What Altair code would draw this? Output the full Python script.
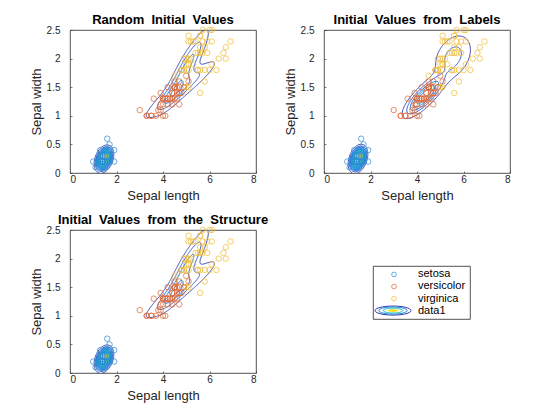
import numpy as np
import pandas as pd
import altair as alt
from collections import defaultdict

# ---------------- data: Fisher iris, petal measurements ----------------
species_names = ["setosa", "versicolor", "virginica"]

setosa_len = [1.4,1.4,1.3,1.5,1.4,1.7,1.4,1.5,1.4,1.5,1.5,1.6,1.4,1.1,1.2,1.5,1.3,1.4,1.7,1.5,
              1.7,1.5,1.0,1.7,1.9,1.6,1.6,1.5,1.4,1.6,1.6,1.5,1.5,1.4,1.5,1.2,1.3,1.4,1.3,1.5,
              1.3,1.3,1.3,1.6,1.9,1.4,1.6,1.4,1.5,1.4]
setosa_wid = [0.2,0.2,0.2,0.2,0.2,0.4,0.3,0.2,0.2,0.1,0.2,0.2,0.1,0.1,0.2,0.4,0.4,0.3,0.3,0.3,
              0.2,0.4,0.2,0.5,0.2,0.2,0.4,0.2,0.2,0.2,0.2,0.4,0.1,0.2,0.2,0.2,0.2,0.1,0.2,0.2,
              0.3,0.3,0.2,0.6,0.4,0.3,0.2,0.2,0.2,0.2]
versicolor_len = [4.7,4.5,4.9,4.0,4.6,4.5,4.7,3.3,4.6,3.9,3.5,4.2,4.0,4.7,3.6,4.4,4.5,4.1,4.5,3.9,
                  4.8,4.0,4.9,4.7,4.3,4.4,4.8,5.0,4.5,3.5,3.8,3.7,3.9,5.1,4.5,4.5,4.7,4.4,4.1,4.0,
                  4.4,4.6,4.0,3.3,4.2,4.2,4.2,4.3,3.0,4.1]
versicolor_wid = [1.4,1.5,1.5,1.3,1.5,1.3,1.6,1.0,1.3,1.4,1.0,1.5,1.0,1.4,1.3,1.4,1.5,1.0,1.5,1.1,
                  1.8,1.3,1.5,1.2,1.3,1.4,1.4,1.7,1.5,1.0,1.1,1.0,1.2,1.6,1.5,1.6,1.5,1.3,1.3,1.3,
                  1.2,1.4,1.2,1.0,1.3,1.2,1.3,1.3,1.1,1.3]
virginica_len = [6.0,5.1,5.9,5.6,5.8,6.6,4.5,6.3,5.8,6.1,5.1,5.3,5.5,5.0,5.1,5.3,5.5,6.7,6.9,5.0,
                 5.7,4.9,6.7,4.9,5.7,6.0,4.8,4.9,5.6,5.8,6.1,6.4,5.6,5.1,5.6,6.1,5.6,5.5,4.8,5.4,
                 5.6,5.1,5.1,5.9,5.7,5.2,5.0,5.2,5.4,5.1]
virginica_wid = [2.5,1.9,2.1,1.8,2.2,2.1,1.7,1.8,1.8,2.5,2.0,1.9,2.1,2.0,2.4,2.3,1.8,2.2,2.3,1.5,
                 2.3,2.0,2.0,1.8,2.1,1.8,1.8,1.8,2.1,1.6,1.9,2.0,2.2,1.5,1.4,2.3,2.4,1.8,1.8,2.1,
                 2.4,2.3,1.9,2.3,2.5,2.3,1.9,2.0,2.3,1.8]

panel_titles = ["Random\u00a0 Initial\u00a0 Values",
                "Initial\u00a0 Values\u00a0 from\u00a0 Labels",
                "Initial\u00a0 Values\u00a0 from\u00a0 the\u00a0 Structure"]

# Start values given explicitly in the structure (mu, Sigma, proportions)
start_mu = [[1, 1], [2, 2], [3, 3]]
start_sigma_base = [[1, 1], [1, 2]]
start_sigma_scale = [1, 2, 3]
start_prop = [1/2, 1/4, 1/4]

x_ticks = [0, 2, 4, 6, 8]
y_ticks = [0, 0.5, 1, 1.5, 2, 2.5]
x_dom = [0, 8]
y_dom = [0, 2.5]
n_levels = 20

species_colors = ["#2f8fd6", "#df6a3a", "#f0bd3a"]
parula = ["#352a87", "#0363e1", "#1485d4", "#06a7c6", "#38b99e",
          "#92bf73", "#d9ba56", "#fcce2e", "#f9fb0e"]

# ---------------- GMM fits ----------------
pl = np.array(setosa_len + versicolor_len + virginica_len, float)
pw = np.array(setosa_wid + versicolor_wid + virginica_wid, float)
sp = ["setosa"] * 50 + ["versicolor"] * 50 + ["virginica"] * 50
X = np.column_stack([pl, pw])


def gauss(P, mu, S):
    d = P - mu
    inv = np.linalg.inv(S)
    q = np.einsum("ni,ij,nj->n", d, inv, d)
    return np.exp(-0.5 * q) / (2 * np.pi * np.sqrt(np.linalg.det(S)))


def fit_gmm(X, mu, S, w, max_iter=100, tol=1e-6):
    mu = np.array(mu, float); S = np.array(S, float); w = np.array(w, float)
    prev = -np.inf
    for _ in range(max_iter):
        dens = np.column_stack([w[k] * gauss(X, mu[k], S[k]) for k in range(len(w))])
        tot = dens.sum(1)
        ll = np.log(tot).sum()
        if abs(ll - prev) < tol:
            break
        prev = ll
        r = dens / tot[:, None]
        nk = r.sum(0)
        w = nk / len(X)
        mu = (r.T @ X) / nk[:, None]
        S = np.array([((r[:, k, None] * (X - mu[k])).T @ (X - mu[k])) / nk[k] for k in range(len(w))])
    return mu, S, w


S0 = np.array([s * np.array(start_sigma_base, float) for s in start_sigma_scale])
fit_struct = fit_gmm(X, start_mu, S0, start_prop)

lab_groups = [np.column_stack([versicolor_len, versicolor_wid]),
              np.column_stack([setosa_len, setosa_wid]),
              np.column_stack([virginica_len, virginica_wid])]
fit_labels = fit_gmm(X, [g.mean(0) for g in lab_groups],
                     [np.cov(g.T) for g in lab_groups], [1/3, 1/3, 1/3])

fits = [fit_struct, fit_labels, fit_struct]

# ---------------- contour extraction (marching squares) ----------------
gx = np.arange(0, 8.0001, 0.02)
gy = np.arange(0, 2.5001, 0.008)
GX, GY = np.meshgrid(gx, gy)
GP = np.column_stack([GX.ravel(), GY.ravel()])
PXU = 186 / 8.0
PYU = 143 / 2.5


def contour_lines(Z, level):
    ny, nx = Z.shape
    A = Z > level
    H = A[:, :-1] != A[:, 1:]
    V = A[:-1, :] != A[1:, :]
    NH = ny * (nx - 1)

    def hid(i, j): return i * (nx - 1) + j
    def vid(i, j): return NH + i * nx + j

    def point(e):
        if e < NH:
            i, j = divmod(e, nx - 1)
            z0, z1 = Z[i, j], Z[i, j + 1]
            f = (level - z0) / (z1 - z0)
            return gx[j] + f * (gx[j + 1] - gx[j]), gy[i]
        e -= NH
        i, j = divmod(e, nx)
        z0, z1 = Z[i, j], Z[i + 1, j]
        f = (level - z0) / (z1 - z0)
        return gx[j], gy[i] + f * (gy[i + 1] - gy[i])

    cnt = H[:-1, :].astype(int) + H[1:, :] + V[:, :-1] + V[:, 1:]
    adj = defaultdict(list)
    for i, j in np.argwhere(cnt > 0):
        b, t, l, r = hid(i, j), hid(i + 1, j), vid(i, j), vid(i, j + 1)
        flags = [(b, H[i, j]), (r, V[i, j + 1]), (t, H[i + 1, j]), (l, V[i, j])]
        es = [e for e, f in flags if f]
        if len(es) == 2:
            segs = [(es[0], es[1])]
        else:
            c = (Z[i, j] + Z[i, j + 1] + Z[i + 1, j] + Z[i + 1, j + 1]) / 4 > level
            if A[i, j] == c:
                segs = [(b, r), (t, l)]
            else:
                segs = [(b, l), (t, r)]
        for e1, e2 in segs:
            adj[e1].append(e2)
            adj[e2].append(e1)
    visited = set()
    paths = []
    starts = [e for e in adj if len(adj[e]) == 1] + list(adj.keys())
    for s in starts:
        if s in visited:
            continue
        path = [s]; visited.add(s); cur = s
        while True:
            nxt = None
            for n in adj[cur]:
                if n not in visited:
                    nxt = n; break
            if nxt is None:
                if s in adj[cur] and len(path) > 2:
                    path.append(s)
                break
            visited.add(nxt); path.append(nxt); cur = nxt
        pts = [point(e) for e in path]
        kept = [pts[0]]
        for p in pts[1:-1]:
            q = kept[-1]
            if ((p[0] - q[0]) * PXU) ** 2 + ((p[1] - q[1]) * PYU) ** 2 >= 1.0:
                kept.append(p)
        kept.append(pts[-1])
        paths.append(kept)
    return paths


def contour_frame(fit):
    mu, S, w = fit
    Z = sum(w[k] * gauss(GP, mu[k], S[k]) for k in range(len(w))).reshape(GX.shape)
    zmin, zmax = Z.min(), Z.max()
    levels = np.linspace(zmin, zmax, n_levels + 2)[1:-1]
    rows = []
    pid = 0
    for lev in levels:
        tval = (lev - zmin) / (zmax - zmin)
        for path in contour_lines(Z, lev):
            for o, (x, y) in enumerate(path):
                rows.append((round(float(x), 4), round(float(y), 4), pid, o, round(float(tval), 4)))
            pid += 1
    return pd.DataFrame(rows, columns=["x", "y", "path", "ord", "t"])


scatter_df = pd.DataFrame({"length": pl, "width": pw, "species": sp})

FONT = "Liberation Sans"
INK = "#262626"
xs = alt.Scale(domain=x_dom, nice=False, zero=False)
ys = alt.Scale(domain=y_dom, nice=False, zero=False)

x_axis = alt.Axis(title="Sepal length", values=x_ticks, grid=False, domain=False, tickSize=2, offset=-2,
                  labelPadding=1, tickColor=INK, tickWidth=0.6, titlePadding=5)
y_axis = alt.Axis(title="Sepal width", values=y_ticks, format="~g", grid=False, domain=False,
                  tickSize=2, offset=-2, labelPadding=10, tickColor=INK, tickWidth=0.6, titlePadding=3)


def panel(title, fit):
    cdf = contour_frame(fit)
    lines = alt.Chart(cdf).mark_line(strokeWidth=0.9, interpolate="linear").encode(
        x=alt.X("x:Q", scale=xs, axis=x_axis),
        y=alt.Y("y:Q", scale=ys, axis=y_axis),
        color=alt.Color("t:Q", scale=alt.Scale(domain=[0, 1], range=parula), legend=None),
        detail="path:N",
        order="ord:Q",
    )
    pts = alt.Chart(scatter_df).mark_point(shape="circle", size=30, strokeWidth=0.75, filled=False,
                                           opacity=1).encode(
        x=alt.X("length:Q", scale=xs, axis=x_axis),
        y=alt.Y("width:Q", scale=ys, axis=y_axis),
        stroke=alt.Stroke("species:N", scale=alt.Scale(domain=species_names, range=species_colors),
                          legend=None),
    )
    return alt.layer(lines, pts).properties(
        width=186, height=143,
        title=alt.TitleParams(title, fontSize=13, fontWeight="bold", font=FONT, color="black", offset=-2))


p1 = panel(panel_titles[0], fits[0])
p2 = panel(panel_titles[1], fits[1])
p3 = panel(panel_titles[2], fits[2])

# ---------------- legend panel ----------------
legend_labels = species_names + ["data1"]
leg_df = pd.DataFrame({"label": legend_labels})
ly = alt.Y("label:N", scale=alt.Scale(type="point", domain=legend_labels, padding=0.7), axis=None)
leg_sym = alt.Chart(leg_df).transform_filter(alt.FieldOneOfPredicate(field="label", oneOf=species_names)).mark_point(
    shape="circle", size=22, strokeWidth=0.75, filled=False, opacity=1).encode(
    x=alt.value(21), y=ly,
    stroke=alt.Stroke("label:N", scale=alt.Scale(domain=species_names, range=species_colors), legend=None))
leg_txt = alt.Chart(leg_df).mark_text(align="left", baseline="middle", font=FONT, fontSize=11,
                                      color="black").encode(x=alt.value(45), y=ly, text="label:N")
ell = "M-1,0A1,0.25,0,1,1,1,0A1,0.25,0,1,1,-1,0Z"
ring_sizes = [1300, 800, 380, 130]
ring_colors = ["#3b2fb0", "#1a8fd8", "#20c0c0", "#f0e020"]
rings = []
for sz, col in zip(ring_sizes, ring_colors):
    rings.append(alt.Chart(leg_df).transform_filter(alt.datum.label == "data1").mark_point(
        shape=ell, size=sz, strokeWidth=1.0, filled=(col == ring_colors[-1]), opacity=1,
        color=col).encode(x=alt.value(20), y=ly))
legend_chart = alt.layer(leg_sym, leg_txt, *rings).properties(width=97, height=53)

spacer = alt.Chart(leg_df).mark_point(opacity=0).encode(
    x=alt.value(0), y=alt.value(0)
).properties(width=97, height=34, view=alt.ViewBackground(stroke="transparent"))

legend_col = alt.vconcat(spacer, legend_chart, spacing=0)

row1 = alt.hconcat(p1, p2, spacing=26)
row2 = alt.hconcat(p3, legend_col, spacing=100)
chart = alt.vconcat(row1, row2, spacing=10).configure_view(
    stroke=INK, strokeWidth=0.8
).configure_axis(
    labelFont=FONT, labelFontSize=10, labelColor=INK, titleFont=FONT, titleFontSize=13,
    titleColor=INK, titleFontWeight="normal"
).properties(padding={"left": 21, "top": 5, "right": 5, "bottom": 5})

chart.save("out.html", embed_options={"renderer": "svg", "actions": False})
